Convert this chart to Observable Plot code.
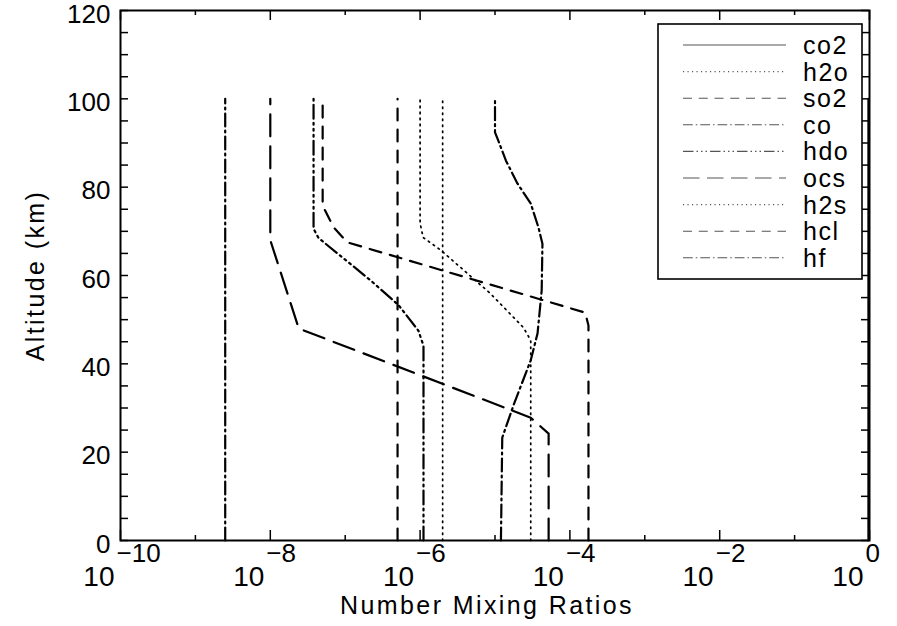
<!DOCTYPE html>
<html>
<head>
<meta charset="utf-8">
<script src="https://cdn.jsdelivr.net/npm/d3@7"></script>
<script src="https://cdn.jsdelivr.net/npm/@observablehq/plot@0.6"></script>
<style>
  html, body { margin: 0; padding: 0; background: #fff; }
  svg { display: block; }
</style>
</head>
<body>
<div id="chart"></div>
<script>
// Species shown in the legend, in order
const species = ["co2", "h2o", "so2", "co", "hdo", "ocs", "h2s", "hcl", "hf"];

// Vertical profiles: altitude (km) and number mixing ratio
const altCO2 = [0, 100];
const mrCO2  = [0.965, 0.965];

const altH2O = [0, 45.3, 48.2, 55.9, 65.7, 68.6, 71.8, 100];
const mrH2O  = [3.0e-5, 3.0e-5, 2.4e-5, 8.7e-6, 1.9e-6, 1.1e-6, 1.0e-6, 1.0e-6];

const altSO2 = [0, 48.7, 51.6, 67.5, 70.9, 75.8, 100];
const mrSO2  = [1.77e-4, 1.77e-4, 1.6e-4, 1.07e-7, 7.0e-8, 5.0e-8, 5.0e-8];

const altCO = [0, 23.3, 31.0, 40.8, 46.9, 56.6, 67.2, 70.9, 76.3, 80.8, 86.0, 91.0, 92.4, 100];
const mrCO  = [1.2e-5, 1.25e-5, 1.8e-5, 3.0e-5, 3.7e-5, 4.2e-5, 4.3e-5, 3.8e-5, 3.0e-5, 2.0e-5, 1.4e-5, 1.08e-5, 1.0e-5, 1.0e-5];

const altHDO = [0, 44.1, 47.5, 53.3, 58.9, 68.5, 70.6, 100];
const mrHDO  = [1.11e-6, 1.11e-6, 9.5e-7, 5.15e-7, 2.18e-7, 4.4e-8, 3.78e-8, 3.78e-8];

const altOCS = [0, 24.2, 27.8, 48, 68, 100];
const mrOCS  = [5.2e-5, 5.2e-5, 3.0e-5, 2.4e-8, 1.0e-8, 1.0e-8];

const altH2S = [0, 100];
const mrH2S  = [2.0e-6, 2.0e-6];

const altHCL = [0, 100];
const mrHCL  = [5.0e-7, 5.0e-7];

const altHF = [0, 100];
const mrHF  = [2.5e-9, 2.5e-9];

// Axis ticks
const yTickValues = d3.range(0, 121, 5);
const yLabelValues = [0, 20, 40, 60, 80, 100, 120];
const xMajorExponents = [-10, -8, -6, -4, -2, 0];
const xMinorExponents = [-9, -7, -5, -3, -1];

// Line styles (solid, dotted, dashed, dash-dot, dash-dot-dot-dot, long dash)
const styles = {
  solid:   {dash: null,                      width: 2},
  dotted:  {dash: "1.5,4.5",                 width: 1.7},
  dashed:  {dash: "12,9",                    width: 2.2},
  dashdot: {dash: "13,4,2,4",                width: 2.2},
  dash3dot:{dash: "14,4,2,4,2,4,2,4",        width: 2.2},
  long:    {dash: "22,10",                   width: 2.2}
};

const profiles = [
  {name: "co2", alt: altCO2, mr: mrCO2, style: "solid"},
  {name: "h2o", alt: altH2O, mr: mrH2O, style: "dotted"},
  {name: "so2", alt: altSO2, mr: mrSO2, style: "dashed"},
  {name: "co",  alt: altCO,  mr: mrCO,  style: "dashdot"},
  {name: "hdo", alt: altHDO, mr: mrHDO, style: "dash3dot"},
  {name: "ocs", alt: altOCS, mr: mrOCS, style: "long"},
  {name: "h2s", alt: altH2S, mr: mrH2S, style: "dotted"},
  {name: "hcl", alt: altHCL, mr: mrHCL, style: "dashed"},
  {name: "hf",  alt: altHF,  mr: mrHF,  style: "dashdot"}
];

const W = 897, H = 626;
const M = {left: 120, right: 28, top: 10, bottom: 86};
const frameW = W - M.left - M.right;
const frameH = H - M.top - M.bottom;
const font = "'Liberation Sans', Arial, sans-serif";
const yTitle = "Altitude (km)";
const xTitle = "Number Mixing Ratios";

const lineMarks = profiles.map(p => {
  const pts = p.alt.map((a, i) => ({alt: a, mr: p.mr[i]}));
  const s = styles[p.style];
  return Plot.line(pts, {
    x: "mr", y: "alt", stroke: "black",
    strokeWidth: s.width, strokeDasharray: s.dash, curve: "linear"
  });
});

const expText = e => e === 0 ? "0" : "\u2212" + Math.abs(e);

const chart = Plot.plot({
  width: W, height: H,
  marginLeft: M.left, marginRight: M.right, marginTop: M.top, marginBottom: M.bottom,
  style: {fontFamily: font, background: "white", overflow: "visible"},
  x: {type: "log", domain: [1e-10, 1], axis: null},
  y: {domain: [0, 120], axis: null},
  marks: [
    ...lineMarks,
    // left and right ticks every 5 km
    Plot.tickY(yTickValues, {y: d => d, stroke: "black", strokeWidth: 1.5, insetRight: frameW - 8}),
    Plot.tickY(yTickValues, {y: d => d, stroke: "black", strokeWidth: 1.5, insetLeft: frameW - 8}),
    // bottom and top decade ticks
    Plot.tickX(xMajorExponents, {x: d => 10 ** d, stroke: "black", strokeWidth: 1.5, insetTop: frameH - 10}),
    Plot.tickX(xMinorExponents, {x: d => 10 ** d, stroke: "black", strokeWidth: 1.5, insetTop: frameH - 5}),
    Plot.tickX(xMajorExponents, {x: d => 10 ** d, stroke: "black", strokeWidth: 1.5, insetBottom: frameH - 10}),
    Plot.tickX(xMinorExponents, {x: d => 10 ** d, stroke: "black", strokeWidth: 1.5, insetBottom: frameH - 5}),
    Plot.frame({stroke: "black", strokeWidth: 2}),
    // y tick labels
    Plot.text(yLabelValues, {
      y: d => d, text: d => String(d), frameAnchor: "left", dx: -10, dy: 4,
      textAnchor: "end", fontSize: 26, fill: "black"
    }),
    // x tick labels: base and superscript exponent
    Plot.text(xMajorExponents, {
      x: d => 10 ** d, text: () => "10", frameAnchor: "bottom", dx: -6, dy: 45,
      textAnchor: "end", fontSize: 28, fill: "black"
    }),
    Plot.text(xMajorExponents, {
      x: d => 10 ** d, text: expText, frameAnchor: "bottom", dx: -4, dy: 21,
      textAnchor: "start", fontSize: 26, fill: "black"
    }),
    // axis titles
    Plot.text([yTitle], {
      text: d => d, frameAnchor: "left", dx: -85, rotate: -90,
      textAnchor: "middle", fontSize: 25, fill: "black"
    }),
    Plot.text([xTitle], {
      text: d => d, frameAnchor: "bottom", dx: -8, dy: 73,
      textAnchor: "middle", fontSize: 25, fill: "black"
    })
  ]
});

document.getElementById("chart").appendChild(chart);

const svg = d3.select(chart);

// Wider tracking on the axis titles
svg.selectAll("text")
  .filter(function () { return this.textContent === yTitle || this.textContent === xTitle; })
  .attr("letter-spacing", 2.4);

// Legend box in the upper right of the frame
const xRange = chart.scale("x").range;
const yRange = chart.scale("y").range;
const frameRight = Math.max(...xRange);
const frameTop = Math.min(...yRange);
const box = {left: frameRight - 211, top: frameTop + 14, width: 204, height: 255};
const legend = svg.append("g").attr("class", "legend");
legend.append("rect")
  .attr("x", box.left).attr("y", box.top)
  .attr("width", box.width).attr("height", box.height)
  .attr("fill", "white").attr("stroke", "black").attr("stroke-width", 1.6);
const rowStep = 26.6;
profiles.forEach((p, i) => {
  const y = box.top + 21 + i * rowStep;
  const s = styles[p.style];
  legend.append("line")
    .attr("x1", box.left + 25).attr("x2", box.left + 128)
    .attr("y1", y).attr("y2", y)
    .attr("stroke", "#555").attr("stroke-width", 1.1)
    .attr("stroke-dasharray", s.dash ? s.dash.split(",").map(v => v * 0.75).join(",") : null);
  legend.append("text")
    .attr("x", box.left + 145).attr("y", y)
    .attr("dy", "0.36em")
    .attr("text-anchor", "start")
    .attr("letter-spacing", 1.5)
    .attr("font-size", 25).attr("font-family", font).attr("fill", "black")
    .text(p.name);
});
</script>
</body>
</html>
